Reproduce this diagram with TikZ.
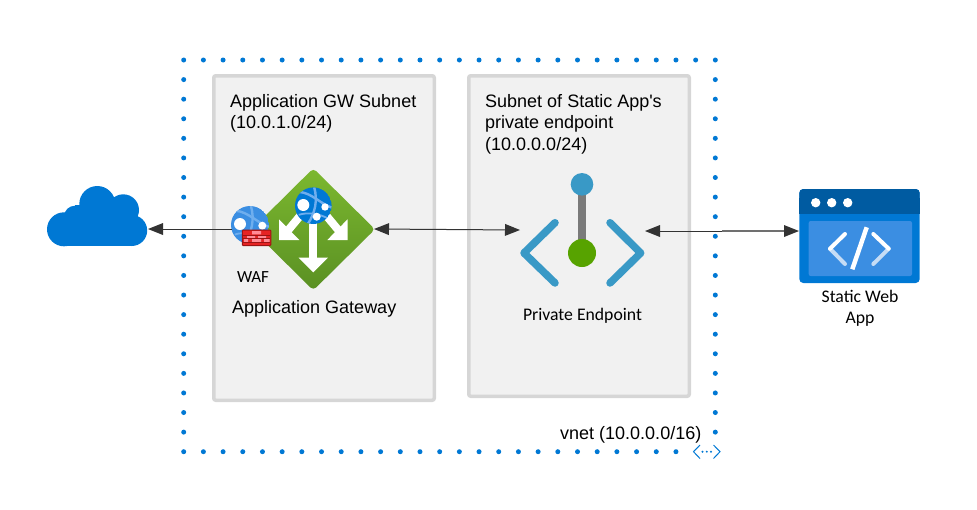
\documentclass[tikz,border=0pt]{standalone}
\usepackage{fontspec}
\setmainfont{Liberation Sans}
\newfontfamily\lblfont{Carlito}
\usetikzlibrary{arrows.meta,shapes.geometric}
\definecolor{azure}{HTML}{0078D4}
\definecolor{azdark}{HTML}{005BA1}
\definecolor{azlight}{HTML}{3B8EE2}
\definecolor{streak}{HTML}{6FAEEE}
\definecolor{boxfill}{HTML}{F1F1F1}
\definecolor{boxline}{HTML}{D6D6D6}
\definecolor{peblue}{HTML}{3999C6}
\definecolor{pegreen}{HTML}{57A300}
\definecolor{pegray}{HTML}{7A7A7A}
\definecolor{wire}{HTML}{333333}
\definecolor{wiregray}{HTML}{707070}
\definecolor{gwtop}{HTML}{7CB82F}
\definecolor{gwbot}{HTML}{5A9023}
\definecolor{brickdark}{HTML}{9B1414}
\definecolor{brickred}{HTML}{E62323}
\definecolor{brickpink}{HTML}{FF8A95}
\definecolor{chevpale}{HTML}{C5DCF5}
\tikzset{
  subnet/.style={draw=boxline,fill=boxfill,line width=3.5pt,rounded corners=2pt,anchor=north west,inner sep=0pt},
  title/.style={anchor=base west,inner sep=0pt,font=\fontsize{18}{21.5}\selectfont,align=left,text=black},
  caption/.style={anchor=base,inner sep=0pt,font=\lblfont\fontsize{17.7}{21}\selectfont,align=center,text=black},
  vdot/.style={fill=azure,circle,inner sep=0pt,minimum size=5pt},
  wiretip/.tip={Triangle[length=15pt,width=12pt,color=wire,fill=wire,line width=0pt]},
  wirearrow/.style={draw=wire,line width=1pt,{wiretip}-{wiretip}},
  wiretail/.style={draw=wire,line width=1pt,-{wiretip}},
  wirehead/.style={draw=wire,line width=1pt,{wiretip}-},
  wirefade/.style={draw=wiregray,line width=1.3pt,-{wiretip}},
  chev/.style={line width=7.5pt,line cap=round,line join=round,draw=peblue},
  swachev/.style={line width=4pt,line cap=round,line join=round,draw=white},
  gwarrow/.style={fill=white,draw=none},
}
% globe: x, y, r, fill
\newcommand{\myglobe}[4]{%
  \begin{scope}
    \clip (#1,#2) circle (#3);
    \fill[#4] (#1,#2) circle (#3);
    \draw[streak,line width=2.4pt] ({#1-0.75*#3},{#2-0.75*#3}) .. controls ({#1-0.1*#3},{#2-0.7*#3}) and ({#1+0.4*#3},{#2-0.1*#3}) .. ({#1+1.0*#3},{#2+0.1*#3});
    \draw[streak,line width=2.4pt] ({#1+0.05*#3},{#2-1.0*#3}) .. controls ({#1+0.25*#3},{#2-0.3*#3}) and ({#1+0.1*#3},{#2+0.4*#3}) .. ({#1-0.3*#3},{#2+1.0*#3});
    \draw[streak,line width=1.8pt] ({#1-0.8*#3},{#2+0.5*#3}) .. controls ({#1-0.3*#3},{#2+0.35*#3}) and ({#1+0.3*#3},{#2+0.4*#3}) .. ({#1+0.9*#3},{#2+0.75*#3});
  \end{scope}}
\begin{document}
\begin{tikzpicture}[x=1pt,y=-1pt]
\useasboundingbox (0,0) rectangle (977,509);
% vnet dotted border
\foreach \i in {0,...,27} \node[vdot] (dt\i) at ({183.7+\i*19.69},60) {};
\foreach \i in {1,...,20} \node[vdot] (dl\i) at (183.7,{60+\i*19.585}) {};
\foreach \i in {1,...,25} \node[vdot] (db\i) at ({183.7+\i*19.69},451.7) {};
\foreach \i in {1,...,19} \node[vdot] (dr\i) at (715.3,{60+\i*19.585}) {};
% vnet icon
\draw[azure,line width=1pt] (700,445) -- (693.5,451.7) -- (700,458.5);
\draw[azure,line width=1pt] (713.5,445) -- (720,451.7) -- (713.5,458.5);
\fill[azure] (702.5,451.7) circle (1.1) (706.8,451.7) circle (1.1) (711,451.7) circle (1.1);
% subnets
\node[subnet,minimum width=220.5pt,minimum height=324.5pt] (gwsub) at (212,74) {};
\node[subnet,minimum width=220.5pt,minimum height=320.5pt] (pesub) at (467,74) {};
\node[title] (gwtitle) at (230,107) {Application GW Subnet};
\node[title] (gwcidr) at (230,128.5) {(10.0.1.0/24)};
\node[title] (petitle) at (485,107) {Subnet of Static App\textquotesingle s};
\node[title] (petitle2) at (485,128.5) {private endpoint};
\node[title] (pecidr) at (485,150) {(10.0.0.0/24)};
\node[title] (gwcap) at (232,313) {Application Gateway};
\node[title] (vnetlbl) at (560,439) {vnet (10.0.0.0/16)};
% cloud
\begin{scope}[fill=azure]
  \fill (64,229.3) circle (17);
  \fill (75,216.7) circle (11);
  \fill (97.3,204) circle (18);
  \fill (123.3,210) circle (15.7);
  \fill (131.7,230.5) circle (15.5);
  \fill (64,222) rectangle (131.7,246);
  \fill (75,205) rectangle (123,230);
\end{scope}
\coordinate (cloudR) at (148,229);
% application gateway diamond
\shade[top color=gwtop,bottom color=gwbot,rounded corners=4pt]
  (313.3,168.3) -- (375,229.3) -- (313.3,290.3) -- (251.7,229.3) -- cycle;
\fill[gwarrow] (309.3,218) rectangle (317.3,258);
\fill[gwarrow] (298.7,257.7) -- (327.9,257.7) -- (313.3,272.3) -- cycle;
\fill[gwarrow] (279,219.3) -- (279,240) -- (299.3,240) -- cycle;
\draw[white,line width=8pt] (300,216) -- (285,234);
\fill[gwarrow] (347.6,219.3) -- (347.6,240) -- (327.3,240) -- cycle;
\draw[white,line width=8pt] (326.6,216) -- (341.6,234);
\myglobe{313.3}{205.7}{18.3}{azure}
\fill[white] (303.3,205) circle (6) (325,207) circle (3.7) (316.7,216.7) circle (4);
\coordinate (agwR) at (374,229);
% WAF
\myglobe{250}{225}{19}{azlight}
\fill[white] (240,224) circle (6) (262.3,225.7) circle (4);
\draw[draw=brickdark,fill=brickred,line width=1pt,rounded corners=0.8pt] (242.4,230) rectangle (270.8,245.5);
\fill[brickpink] (252,231) rectangle (261,234.3) (247,235.2) rectangle (255,238.2) (258,235.2) rectangle (266,238.2) (244,239.2) rectangle (248,242) (252,239.2) rectangle (261,242) (264,239.2) rectangle (269.5,242);
\draw[brickdark,line width=0.6pt] (243,234.8) -- (270,234.8) (243,238.7) -- (270,238.7) (243,242.4) -- (270,242.4);
\coordinate (wafL) at (232,229);
\node[caption,font=\lblfont\fontsize{17}{20}\selectfont] (waflbl) at (253,282) {WAF};
% private endpoint
\draw[pegray,line width=8pt] (582,184) -- (582,253);
\fill[peblue] (582,184.3) circle (11.3);
\fill[pegreen] (582,253) circle (14);
\draw[chev] (555,222.7) -- (524,253) -- (555,283);
\draw[chev] (610,222.7) -- (640.7,253) -- (610,283);
\coordinate (peL) at (520,230);
\coordinate (peR) at (645,231);
\node[caption] (pecap) at (582.5,320) {Private Endpoint};
% static web app
\fill[azure,rounded corners=4pt] (799.3,189) rectangle (919.7,283);
\fill[azdark,rounded corners=4pt] (799.3,189) rectangle (919.7,205);
\fill[azdark] (799.3,198) rectangle (919.7,214);
\fill[white] (815.7,202.7) circle (4.7) (831.7,202.7) circle (4.7) (847.7,202.7) circle (4.7);
\fill[azlight,rounded corners=2pt] (808.7,221) rectangle (912,276);
\draw[swachev,draw=chevpale] (830,248.7) -- (845,264);
\draw[swachev,draw=chevpale] (888.7,248.7) -- (873.3,264);
\draw[swachev] (845,234) -- (830,248.7);
\draw[swachev] (873.3,234) -- (888.7,248.7);
\draw[white,line width=4.5pt] (866.7,227.3) -- (852.3,269.3);
\coordinate (swaL) at (799,231);
\node[caption] (swacap) at (860,302) {Static Web};
\node[caption] (swacap2) at (860,323.5) {App};
% connectors
\coordinate (swaMid) at (722,231);
\draw[wiretail] (wafL) -- (cloudR);
\draw[wirearrow] (agwR) -- (peL);
\draw[wirehead] (peR) -- (swaMid);
\draw[wirefade] (swaMid) -- (swaL);
\end{tikzpicture}
\end{document}
